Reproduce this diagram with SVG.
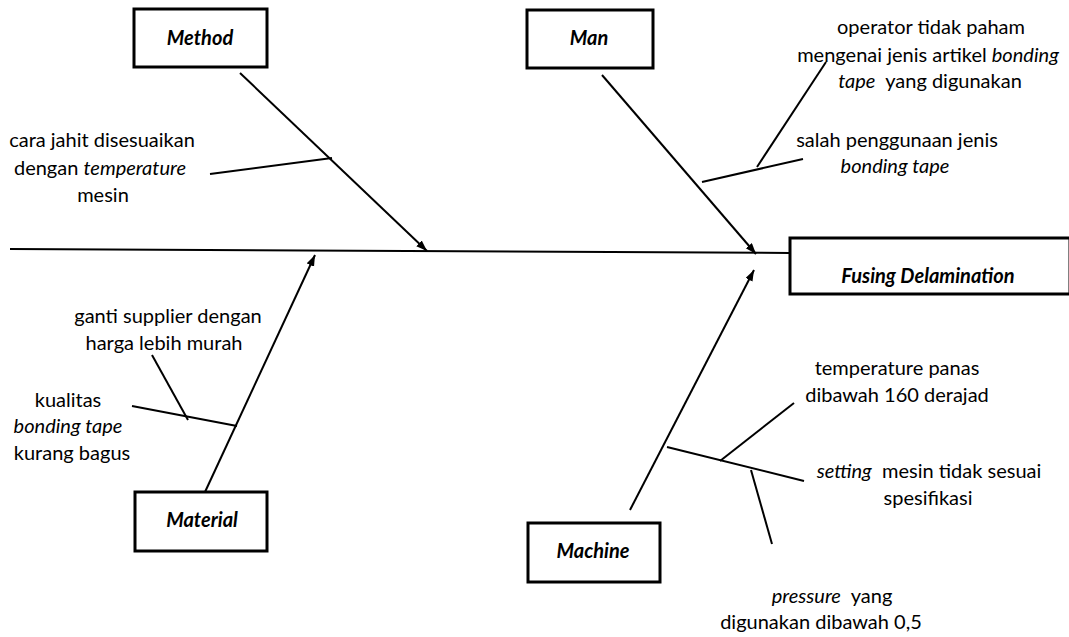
<svg xmlns="http://www.w3.org/2000/svg" width="1069" height="637" viewBox="0 0 1069 637">
  <style>
    .box { fill: #ffffff; stroke: #000000; stroke-width: 3; }
    .cat { font-family: Lato, "Open Sans", sans-serif; font-size: 20px; font-weight: bold; font-style: italic; fill: #000; text-anchor: middle; }
    .note { font-family: Lato, "Open Sans", sans-serif; font-size: 20px; fill: #000; text-anchor: middle; white-space: pre; }
    .it { font-style: italic; }
    .ln { stroke: #000; stroke-width: 2; fill: none; }
  </style>
  <defs>
    <marker id="arrow" markerUnits="userSpaceOnUse" markerWidth="12" markerHeight="10" refX="11" refY="4" orient="auto">
      <path d="M0,0 L11,4 L0,8 Z" fill="#000"/>
    </marker>
  </defs>

  <rect width="1069" height="637" fill="#ffffff"/>

  <!-- connectors: spine, main bones and sub-causes -->
  <g id="connectors">
    <line class="ln" x1="10" y1="249" x2="790" y2="253"/>
    <line class="ln" x1="240" y1="73" x2="427" y2="251" marker-end="url(#arrow)"/>
    <line class="ln" x1="602" y1="75" x2="756" y2="254" marker-end="url(#arrow)"/>
    <line class="ln" x1="205" y1="492" x2="315" y2="255" marker-end="url(#arrow)"/>
    <line class="ln" x1="630" y1="510" x2="754" y2="270" marker-end="url(#arrow)"/>
    <!-- Method causes -->
    <line class="ln" x1="210" y1="174" x2="332" y2="158"/>
    <!-- Man causes -->
    <line class="ln" x1="702" y1="182" x2="803" y2="159"/>
    <line class="ln" x1="757" y1="167" x2="826" y2="62"/>
    <!-- Material causes -->
    <line class="ln" x1="132" y1="406" x2="237" y2="426"/>
    <line class="ln" x1="152" y1="355" x2="188" y2="420"/>
    <!-- Machine causes -->
    <line class="ln" x1="667" y1="447" x2="804" y2="481"/>
    <line class="ln" x1="720" y1="461" x2="794" y2="403"/>
    <line class="ln" x1="751" y1="470" x2="772" y2="544"/>
  </g>

  <!-- effect -->
  <g id="effect">
    <rect class="box" x="790" y="238" width="280" height="56"/>
    <text class="cat" x="928" y="283" font-size="21">Fusing Delamination</text>
  </g>

  <g id="method">
    <rect class="box" x="134" y="9" width="133" height="58"/>
    <text class="cat" x="200" y="45">Method</text>
  </g>

  <g id="man">
    <rect class="box" x="527" y="10" width="126" height="58"/>
    <text class="cat" x="589" y="45">Man</text>
  </g>

  <g id="material">
    <rect class="box" x="135" y="492" width="132" height="59"/>
    <text class="cat" x="202" y="527">Material</text>
  </g>

  <g id="machine">
    <rect class="box" x="528" y="523" width="132" height="59"/>
    <text class="cat" x="593" y="558">Machine</text>
  </g>

  <!-- cause notes -->
  <g id="note-method">
    <text class="note" x="102" y="147">cara jahit disesuaikan</text>
    <text class="note" x="100" y="175">dengan <tspan class="it">temperature</tspan></text>
    <text class="note" x="103" y="202">mesin</text>
  </g>

  <g id="note-man-1">
    <text class="note" x="931" y="34">operator tidak paham</text>
    <text class="note" x="928" y="62">mengenai jenis artikel <tspan class="it">bonding</tspan></text>
    <text class="note" x="930" y="88"><tspan class="it">tape</tspan>  yang digunakan</text>
  </g>

  <g id="note-man-2">
    <text class="note" x="897" y="147">salah penggunaan jenis</text>
    <text class="note" x="895" y="173" font-style="italic">bonding tape</text>
  </g>

  <g id="note-material-1">
    <text class="note" x="168" y="323">ganti supplier dengan</text>
    <text class="note" x="164" y="350">harga lebih murah</text>
  </g>

  <g id="note-material-2">
    <text class="note" x="68" y="407">kualitas</text>
    <text class="note" x="68" y="433" font-style="italic">bonding tape</text>
    <text class="note" x="72" y="460">kurang bagus</text>
  </g>

  <g id="note-machine-1">
    <text class="note" x="897" y="375">temperature panas</text>
    <text class="note" x="897" y="402">dibawah 160 derajad</text>
  </g>

  <g id="note-machine-2">
    <text class="note" x="929" y="478"><tspan class="it">setting</tspan>  mesin tidak sesuai</text>
    <text class="note" x="928" y="505">spesifikasi</text>
  </g>

  <g id="note-machine-3">
    <text class="note" x="832" y="603"><tspan class="it">pressure</tspan>  yang</text>
    <text class="note" x="821" y="629">digunakan dibawah 0,5</text>
  </g>
</svg>
